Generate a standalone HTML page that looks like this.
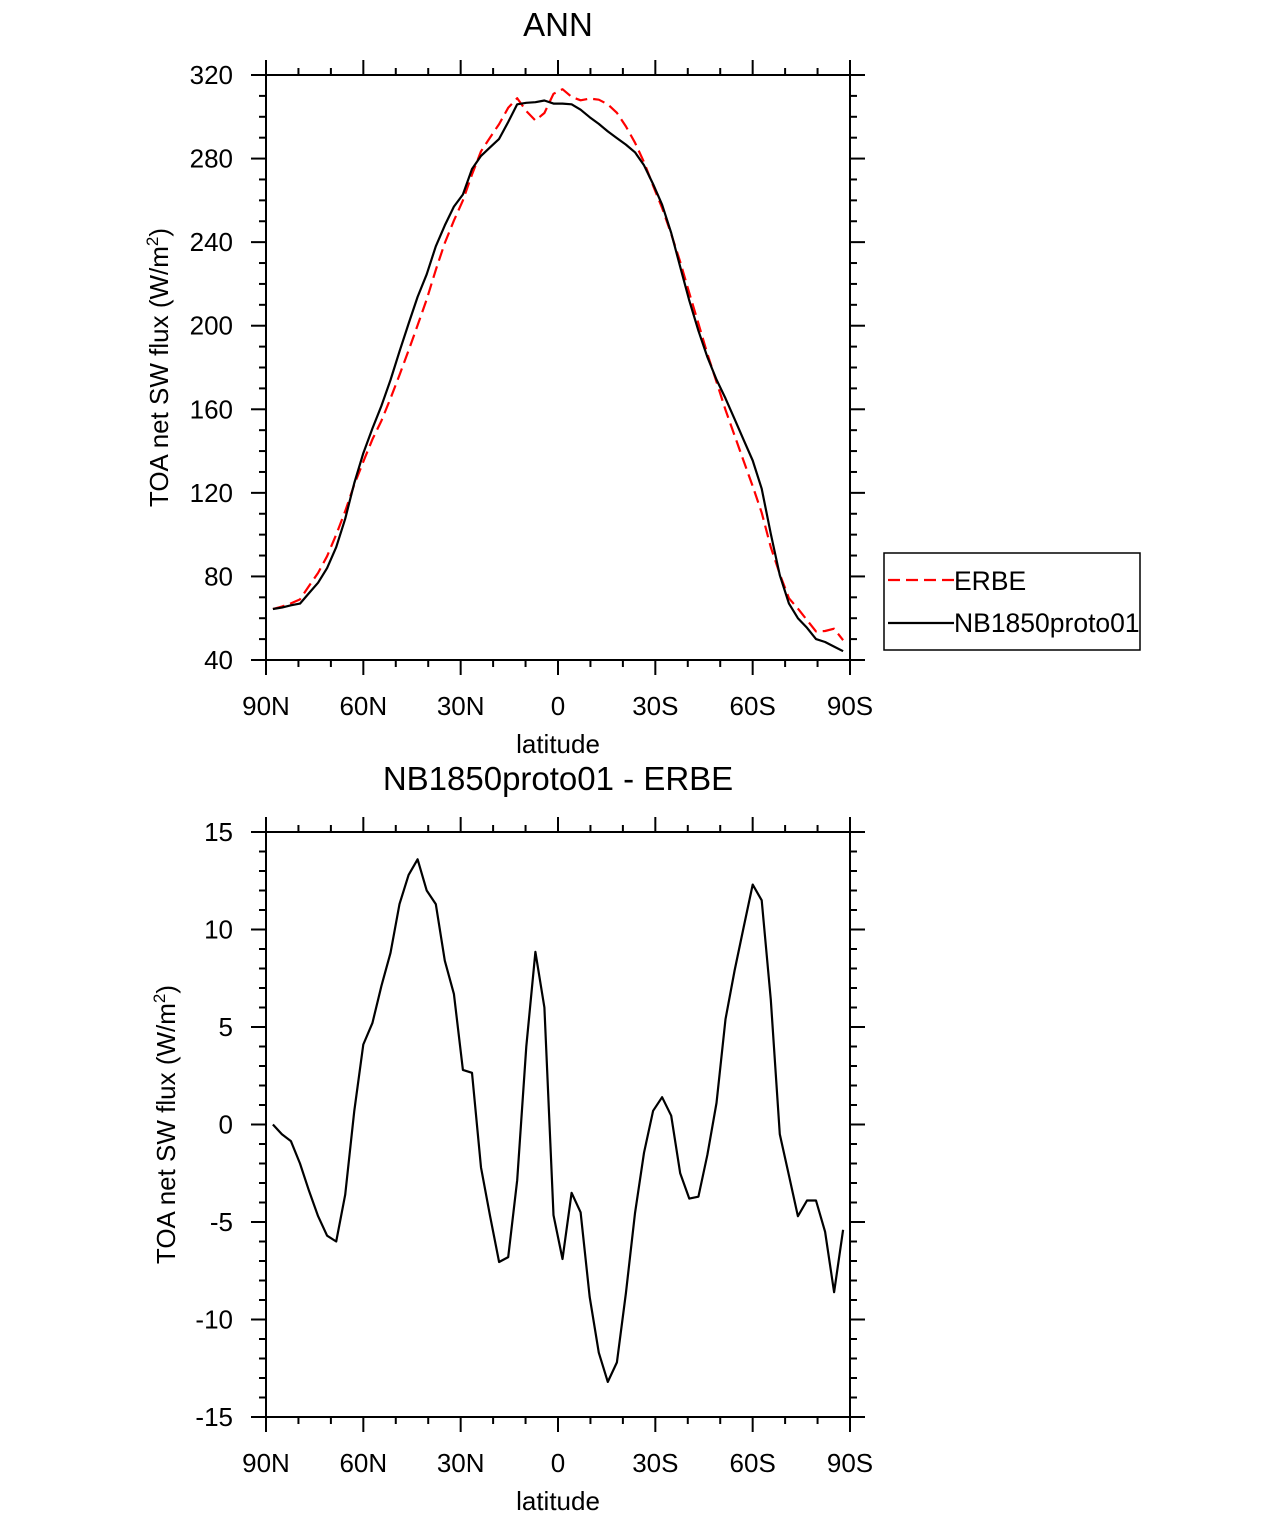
<!DOCTYPE html>
<html><head><meta charset="utf-8"><style>
html,body{margin:0;padding:0;background:#fff;}
svg text{font-family:"Liberation Sans",Arial,sans-serif;fill:#000;}
</style></head><body>
<svg id="chart" width="1285" height="1517" viewBox="0 0 1285 1517" xmlns="http://www.w3.org/2000/svg"></svg>
<script>
const lats = [87.86,85.10,82.31,79.53,76.74,73.95,71.16,68.37,65.58,62.79,60.00,57.21,54.42,51.63,48.84,46.05,43.26,40.47,37.67,34.88,32.09,29.30,26.51,23.72,20.93,18.14,15.35,12.56,9.77,6.98,4.19,1.40,-1.40,-4.19,-6.98,-9.77,-12.56,-15.35,-18.14,-20.93,-23.72,-26.51,-29.30,-32.09,-34.88,-37.67,-40.47,-43.26,-46.05,-48.84,-51.63,-54.42,-57.21,-60.00,-62.79,-65.58,-68.37,-71.16,-73.95,-76.74,-79.53,-82.31,-85.10,-87.86];
const nbValues = [64.4,65.1,66.2,67.0,72,77,84,94,107.6,124.7,139,150.8,161.6,174,187.7,201,213.8,224.6,238,248,257,262.8,275,281.3,285.4,289.4,297.5,306,306.7,307,307.8,306.3,306.3,306,303.4,299.8,296.6,293,289.8,286.7,283,276.8,267.8,257.9,244.4,228.2,212,197.6,185,174.2,165.2,155.3,145.4,135.5,122,100.4,80.6,67.1,60,55.4,50,48.6,46.4,44.2];
const erbeValues = [64.4,65.6,67.1,69.0,75.4,81.7,89.7,100.0,111.2,124.0,134.9,145.6,154.5,165.2,176.4,188.2,200.2,212.6,226.7,239.6,250.3,260.0,272.4,283.5,290.1,296.5,304.3,308.9,302.7,298.2,301.8,311.0,313.2,309.5,307.9,308.7,308.2,306.0,301.9,295.4,287.6,278.3,267.0,256.4,243.9,230.6,215.6,201.1,186.5,173.1,159.7,147.4,135.3,123.2,110.5,94.0,81.1,69.6,64.6,59.1,53.7,53.9,55.0,49.5];
const diffValues = [0.0,-0.5,-0.85,-2.0,-3.4,-4.7,-5.7,-6.0,-3.6,0.7,4.1,5.2,7.1,8.8,11.3,12.8,13.6,12.0,11.3,8.4,6.7,2.8,2.65,-2.2,-4.7,-7.05,-6.8,-2.85,4.0,8.85,6.0,-4.65,-6.9,-3.5,-4.5,-8.85,-11.7,-13.2,-12.2,-8.65,-4.55,-1.45,0.7,1.4,0.45,-2.5,-3.8,-3.7,-1.55,1.1,5.4,7.9,10.1,12.3,11.5,6.4,-0.5,-2.6,-4.7,-3.9,-3.9,-5.5,-8.6,-5.4];
const xTickLats = [90,60,30,0,-30,-60,-90];
const xTickLabels = ["90N","60N","30N","0","30S","60S","90S"];
const topYTicks = [40,80,120,160,200,240,280,320];
const botYTicks = [-15,-10,-5,0,5,10,15];
const botYLabels = ["-15","-10","-5","0","5","10","15"];

const svg = document.getElementById('chart');
const NS = 'http://www.w3.org/2000/svg';
function mk(tag, attrs, parent){const e=document.createElementNS(NS,tag);for(const k in attrs)e.setAttribute(k,attrs[k]);(parent||svg).appendChild(e);return e;}

function panel(cfg){
  const g = mk('g',{});
  
  
  const L=266,R=850,T=cfg.top,B=cfg.bottom;
  const xs = lat => L + (90-lat)/180*(R-L);
  const ys = v => B - (v-cfg.ymin)/(cfg.ymax-cfg.ymin)*(B-T);
  const tk = mk('g',{stroke:'#000','stroke-width':2},g);
  
  
  for(let lat=90;lat>=-90;lat-=10){
    const x=xs(lat), major=(lat%30===0), len=major?15:7;
    mk('line',{x1:x,y1:B,x2:x,y2:B+len},tk);
    mk('line',{x1:x,y1:T,x2:x,y2:T-len},tk);
  }
  for(let v=cfg.ymin; v<=cfg.ymax+1e-9; v+=cfg.minor){
    const y=ys(v), major=Math.abs(((v-cfg.ymin)/cfg.major)-Math.round((v-cfg.ymin)/cfg.major))<1e-6, len=major?15:7;
    mk('line',{x1:L,y1:y,x2:L-len,y2:y},tk);
    mk('line',{x1:R,y1:y,x2:R+len,y2:y},tk);
  }
  const fr = mk('rect',{x:L,y:T,width:R-L,height:B-T,fill:'none',stroke:'#000','stroke-width':2},g);
  
  
  xTickLats.forEach((lat,i)=>{
    const t=mk('text',{x:xs(lat),y:B+55,'font-size':26,'text-anchor':'middle'},g);
    
    
    t.textContent=xTickLabels[i];
  });
  cfg.yticks.forEach((v,i)=>{
    const t=mk('text',{x:L-33,y:ys(v)+9,'font-size':26,'text-anchor':'end'},g);
    
    
    t.textContent=cfg.ylabels[i];
  });
  const xl=mk('text',{x:(L+R)/2,y:B+93,'font-size':26,'text-anchor':'middle'},g);
  
  
  xl.textContent='latitude';
  const yc=(T+B)/2, yx=cfg.ytitleX;
  const yl=mk('text',{x:yx,y:yc,'font-size':26,'text-anchor':'middle',transform:`rotate(-90 ${yx} ${yc})`},g);
  
  
  yl.innerHTML='TOA net SW flux (W/m<tspan dy="-10" font-size="17">2</tspan><tspan dy="10">)</tspan>';
  const ti=mk('text',{x:(L+R)/2,y:cfg.titleY,'font-size':33,'text-anchor':'middle'},g);
  
  
  ti.textContent=cfg.title;
  cfg.series.forEach(s=>{
    const pts=s.values.map((v,i)=>xs(lats[i]).toFixed(1)+','+ys(v).toFixed(1)).join(' ');
    const p=mk('polyline',{points:pts,fill:'none',stroke:s.color,'stroke-width':2.2,'stroke-dasharray':s.dash||'none','stroke-linejoin':'round'},g);
    
    
  });
}

panel({name:'top-panel',top:75,bottom:660,ymin:40,ymax:320,major:40,minor:10,yticks:topYTicks,ylabels:topYTicks.map(String),title:'ANN',titleY:36,ytitleX:168,
  series:[{name:'erbe-line',values:erbeValues,color:'#ff0000',dash:'12 6'},{name:'nb1850proto01-line',values:nbValues,color:'#000'}]});
panel({name:'bottom-panel',top:832,bottom:1417,ymin:-15,ymax:15,major:5,minor:1,yticks:botYTicks,ylabels:botYLabels,title:'NB1850proto01 - ERBE',titleY:790,ytitleX:175,
  series:[{name:'difference-line',values:diffValues,color:'#000'}]});

const lg = mk('g',{});


mk('rect',{x:884,y:553,width:256,height:97,fill:'#fff',stroke:'#000','stroke-width':1.5},lg);
const e1=mk('g',{},lg);


mk('line',{x1:888,y1:580,x2:954,y2:580,stroke:'#ff0000','stroke-width':2.2,'stroke-dasharray':'12 6'},e1);
const t1=mk('text',{x:954,y:590,'font-size':26.5},e1);t1.textContent='ERBE';
const e2=mk('g',{},lg);


mk('line',{x1:888,y1:623,x2:954,y2:623,stroke:'#000','stroke-width':2.2},e2);
const t2=mk('text',{x:954,y:632,'font-size':26.5},e2);t2.textContent='NB1850proto01';
</script>
</body></html>
